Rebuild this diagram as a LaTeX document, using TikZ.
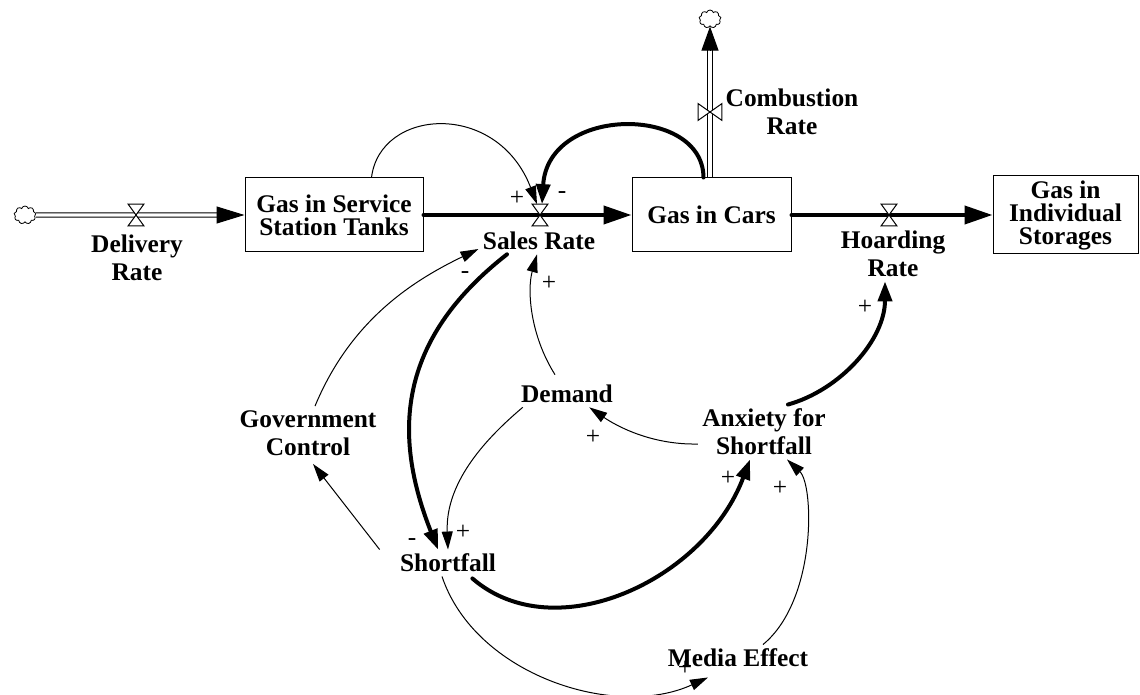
\documentclass[tikz,border=0pt]{standalone}
\usepackage{fontspec}
\setmainfont{Liberation Serif}
\usetikzlibrary{arrows.meta,shapes.symbols}
\tikzset{
  stock/.style={draw, line width=0.5pt, inner sep=0pt, align=center,
    font=\bfseries\fontsize{12.7}{11.5}\selectfont},
  varlabel/.style={inner sep=2pt, align=center,
    font=\bfseries\fontsize{12.7}{14}\selectfont},
  pol/.style={inner sep=0pt, font=\fontsize{12.7}{14}\selectfont},
  source/.style={cloud, cloud puffs=9, aspect=1.3, draw, line width=0.4pt,
    minimum width=11pt, minimum height=9pt, inner sep=0pt},
  valveline/.style={line width=0.5pt, fill=white},
  valveh/.style={inner sep=0pt, minimum width=7.5pt, minimum height=10.5pt},
  valvev/.style={inner sep=0pt, minimum width=11.5pt, minimum height=8pt},
  pipe/.style={double, double distance=1.6pt, line width=0.5pt},
  pipehead/.style={-{Triangle[length=#1,width=8.5pt]}, line width=0.5pt},
  pipehead/.default=14pt,
  flowline/.style={line width=2pt, line cap=round, -{Triangle[length=14pt,width=9pt]}},
  link/.style={line width=0.5pt, -{Triangle[length=9pt,width=5.5pt]}},
  thicklink/.style={line width=2pt, line cap=round, -{Triangle[length=10pt,width=7pt]}}
}
\newcommand{\hvalve}[2]{%
  \node[valveh] (#1) at (#2) {};
  \draw[valveline] (#1.north west) -- (#1.north east) -- (#1.center) -- cycle
    (#1.south west) -- (#1.south east) -- (#1.center) -- cycle;}
\newcommand{\vvalve}[2]{%
  \node[valvev] (#1) at (#2) {};
  \draw[valveline] (#1.north west) -- (#1.south west) -- (#1.center) -- cycle
    (#1.north east) -- (#1.south east) -- (#1.center) -- cycle;}
\begin{document}
\begin{tikzpicture}[x=0.5pt, y=-0.5pt]
  \useasboundingbox (0,0) rectangle (1140,695);
  \node[stock, minimum width=89pt, minimum height=37pt] (gst) at (334,215) {Gas in Service\\Station Tanks};
  \node[stock, minimum width=79.5pt, minimum height=37pt] (gic) at (711.5,215) {Gas in Cars};
  \node[stock, minimum width=72.5pt, minimum height=39pt] (gis) at (1065.5,215) {Gas in\\Individual\\Storages};
  \node[source] (dcloud) at (25,215) {};
  \node[source] (ccloud) at (710,19) {};
  \node[varlabel] (drate) at (137,258) {Delivery\\Rate};
  \node[varlabel] (srate) at (539,241) {Sales Rate};
  \node[varlabel] (crate) at (792,112) {Combustion\\Rate};
  \node[varlabel] (hrate) at (893,254) {Hoarding\\Rate};
  \node[varlabel] (gov) at (308,433) {Government\\Control};
  \node[varlabel] (dem) at (567,394) {Demand};
  \node[varlabel] (anx) at (764,432) {Anxiety for\\Shortfall};
  \node[varlabel] (sf) at (448,563) {Shortfall};
  \node[varlabel] (med) at (738,658) {Media Effect};

  \draw[pipe] (dcloud.east) -- ([xshift=-13pt]gst.west);
  \draw[pipehead] ([xshift=-14pt]gst.west) -- (gst.west);
  \draw[flowline] (gst.east) -- (gic.west);
  \draw[flowline] (gic.east) -- (gis.west);
  \draw[pipe] ([xshift=-0.75pt]gic.north) -- ([yshift=-11pt]ccloud.south);
  \draw[pipehead=12pt] ([yshift=-12pt]ccloud.south) -- (ccloud.south);
  \hvalve{dv}{136,215}
  \hvalve{sv}{540,215}
  \hvalve{hv}{889,215}
  \vvalve{cv}{710,112}

  \begin{scope}[link]
    \draw (gst.45) .. controls (380,108) and (497,100) .. ([xshift=-1.5pt]sv.north);
    \draw ([xshift=3.5pt]gov.north) .. controls (350,322) and (410,282) .. ([yshift=-4pt]srate.west);
    \draw ([xshift=-8pt]sf.north west) -- ([xshift=2.5pt,yshift=-2pt]gov.south);
    \draw ([xshift=-6pt,yshift=3pt]dem.north) .. controls (530,335) and (527,290) .. ([xshift=-1pt]srate.south);
    \draw ([xshift=3pt]dem.south west) .. controls (490,435) and (445,480) .. (sf.north);
    \draw ([yshift=-6pt]anx.west) .. controls (650,445) and (615,425) .. ([xshift=-14pt]dem.south east);
    \draw ([xshift=-3pt]sf.south) .. controls (475,675) and (615,720) .. ([xshift=-15pt,yshift=-3pt]med.south);
    \draw ([xshift=12.5pt]med.north) .. controls (817,600) and (814,485) .. ([xshift=11.5pt]anx.south);
  \end{scope}
  \begin{scope}[thicklink]
    \draw ([xshift=-4pt]gic.north) .. controls (703,105) and (548,105) .. ([xshift=1pt]sv.north);
    \draw ([xshift=-16pt]srate.south) .. controls (396,341) and (393,436) .. ([xshift=-5pt]sf.north);
    \draw ([xshift=12pt]anx.north) .. controls (840,390) and (885,340) .. ([xshift=-4pt]hrate.south);
    \draw ([xshift=-14pt,yshift=-1pt]sf.south east) .. controls (555,650) and (705,580) .. ([xshift=-7pt]anx.south);
  \end{scope}

  \node[pol] (p1) at (517,198) {+};
  \node[pol] (p2) at (562,195) {-};
  \node[pol] (p3) at (465,275) {-};
  \node[pol] (p4) at (549,283) {+};
  \node[pol] (p5) at (412,542) {-};
  \node[pol] (p6) at (463,532) {+};
  \node[pol] (p7) at (593,437) {+};
  \node[pol] (p8) at (865,307) {+};
  \node[pol] (p9) at (728,478) {+};
  \node[pol] (p10) at (780,488) {+};
  \node[pol] (p11) at (685,668) {+};
\end{tikzpicture}
\end{document}
